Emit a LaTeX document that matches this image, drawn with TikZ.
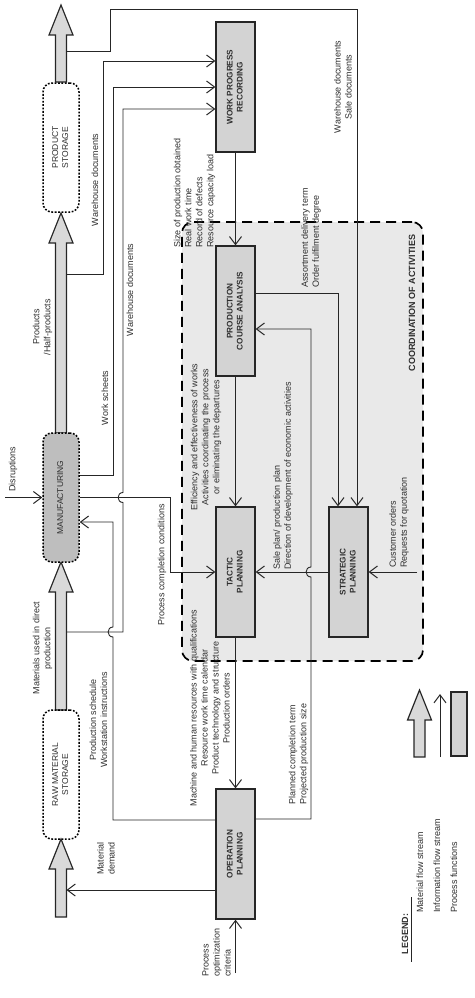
\documentclass[tikz,border=0pt]{standalone}
\usepackage{fontspec}
\setmainfont{Liberation Sans}
\usepackage{graphicx}
\usetikzlibrary{arrows.meta}
\definecolor{ink}{HTML}{262626}
\definecolor{txt}{HTML}{2E2E2E}
\definecolor{boxfill}{HTML}{D3D3D3}
\definecolor{mffill}{HTML}{BEBEBE}
\definecolor{coordfill}{HTML}{E9E9E9}
\definecolor{fatfill}{HTML}{D9D9D9}
\tikzset{
  proc/.style={draw=ink, line width=1.3pt, fill=boxfill, minimum width=39pt, minimum height=130pt, inner sep=0pt, font=\fontsize{8.2}{10}\selectfont\bfseries, text=txt},
  store/.style={draw=black, line width=1.5pt, dash pattern=on 1.8pt off 1.6pt, rounded corners=9pt, minimum width=36pt, minimum height=129pt, inner sep=0pt, font=\fontsize{8.5}{10}\selectfont, text=txt},
  coordbox/.style={draw=black, fill=coordfill, line width=1.7pt, dash pattern=on 10pt off 6pt, rounded corners=11pt, minimum width=241pt, minimum height=439pt, inner sep=0pt},
  info/.style={draw=ink, line width=0.9pt},
  infoa/.style={info, -{Straight Barb[length=8pt,width=12pt,line width=1pt]}},
  lbl/.style={rotate=90, font=\fontsize{9}{11}\selectfont, text=txt, inner sep=0pt},
  fat/.style={draw=ink, line width=1.2pt, fill=fatfill, line join=miter},
}
\newcommand{\rtxt}[1]{\rotatebox{90}{\begin{tabular}{@{}c@{}}#1\end{tabular}}}
\newcommand{\fatarr}[4]{%
  \path[fat] (#1-5.5,#4) -- (#1-5.5,#3) -- (#1-12,#3) -- (#1,#2) -- (#1+12,#3) -- (#1+5.5,#3) -- (#1+5.5,#4) -- cycle;}
\begin{document}
\begin{tikzpicture}[x=1pt,y=-1pt]
\useasboundingbox (0,0) rectangle (474,998);
% coordination area
\node[coordbox] (coord) at (302.5,441.5) {};
\node[lbl, font=\fontsize{9}{11}\selectfont\bfseries] (coordl) at (412,303) {COORDINATION OF ACTIVITIES};

% material flow
\fatarr{61}{5}{35}{82}
\fatarr{61}{213}{243}{433}
\fatarr{61}{562}{592}{710}
\fatarr{61}{839}{869}{917}
\node[store] (ps) at (61,147.5) {\rtxt{PRODUCT\\STORAGE}};
\node[store, fill=mffill] (mf) at (61,497.5) {\rtxt{MANUFACTURING}};
\node[store] (rm) at (61,774.5) {\rtxt{RAW MATERIAL\\STORAGE}};

% process functions
\node[proc] (wpr) at (235.5,87) {\rtxt{WORK PROGRESS\\RECORDING}};
\node[proc] (pca) at (235.5,311) {\rtxt{PRODUCTION\\COURSE ANALYSIS}};
\node[proc] (tp) at (235.5,572) {\rtxt{TACTIC\\PLANNING}};
\node[proc] (sp) at (348.5,572) {\rtxt{STRATEGIC\\PLANNING}};
\node[proc] (op) at (235.5,854) {\rtxt{OPERATION\\PLANNING}};

% free ends
\coordinate (ps1) at (66.5,51);
\coordinate (ms1) at (66.5,274);
\coordinate (rs1) at (66.5,632);
\coordinate (rs2) at (66.5,890);
\coordinate (dis) at (5,497.5);
\coordinate (crit) at (235.5,973);
\coordinate (cust) at (417,572);

% information flows
\draw[infoa] (ps1) -| (110,9) -| ([xshift=8.5pt]sp.north);
\draw[infoa] (ms1) -| (103,61) -- ([yshift=26pt]wpr.west);
\draw[infoa] ([yshift=22.5pt]mf.east) -| (113,87) -- (wpr.west);
\draw[infoa] (rs1) -- (123,632) -- (123,502.5) .. controls (116.5,502.5) and (116.5,492.5) .. (123,492.5) |- ([yshift=-22pt]wpr.west);
\draw[infoa] (mf.east) -| (170,572) -- (tp.west);
\draw[infoa] ([yshift=34pt]op.west) -| (113,637) .. controls (106.5,637) and (106.5,627) .. (113,627) |- ([yshift=-24.5pt]mf.east);
\draw[infoa] ([yshift=-36pt]op.west) -- (rs2);
\draw[infoa] (dis) -- (mf.west);
\draw[infoa] (wpr.south) -- (pca.north);
\draw[infoa] (pca.south) -- (tp.north);
\draw[infoa] (tp.south) -- (op.north);
\draw[infoa] (crit) -- (op.south);
\draw[infoa] ([yshift=18pt]pca.east) -| ([xshift=-10.5pt]sp.north);
\draw[infoa] ([yshift=35pt]op.east) -| (311,577) .. controls (304.5,577) and (304.5,567) .. (311,567) |- ([yshift=-18pt]pca.east);
\draw[infoa] (sp.west) -- (tp.east);
\draw[infoa] (cust) -- (sp.east);

% labels
\node[lbl] (l1) at (95,180) {Warehouse documents};
\node[lbl, align=center] (l2) at (42.5,327) {Products\\/Half-products};
\node[lbl] (l3) at (105,398) {Work scheets};
\node[lbl] (l4) at (130,290) {Warehouse documents};
\node[lbl] (l5) at (13,469) {Disruptions};
\node[lbl, align=center] (l6) at (42.5,648) {Materials used in direct\\production};
\node[lbl, align=center] (l7) at (98.5,720) {Production schedule\\Workstation instructions};
\node[lbl] (l8) at (162,565) {Process completion conditions};
\node[lbl, align=left, anchor=west] (l9) at (194.5,248) {Size of production obtained\\Real work time\\Record of defects\\Resource capacity load};
\node[lbl, align=center] (l10) at (206,437) {Efficiency and effectiveness of works\\Activities coordinating the process\\or eliminating the departures};
\node[lbl, align=center] (l11) at (210,708) {Machine and human resources with qualifications\\Resource work time calendar\\Product technology and structure\\Production orders};
\node[lbl, align=left, anchor=west] (l12) at (311,288) {Assortment delivery term\\Order fulfilment degree};
\node[lbl, align=left, anchor=west] (l13) at (283,570) {Sale plan/ production plan\\Direction of development of economic activities};
\node[lbl, align=left, anchor=west] (l14) at (399,568) {Customer orders\\Requests for quotation};
\node[lbl, align=left, anchor=west] (l15) at (298.5,805) {Planned completion term\\Projected production size};
\node[lbl, align=center] (l16) at (343,87) {Warehouse documents\\Sale documents};
\node[lbl, align=left, anchor=west] (l17) at (216.5,977) {Process\\optimization\\criteria};
\node[lbl, align=left, anchor=west] (l18) at (106,875) {Material\\demand};

% legend
\node[lbl, font=\fontsize{9}{11}\selectfont\bfseries] (lg) at (405,934) {LEGEND:};
\coordinate (ul1) at (411,897);
\coordinate (ul2) at (411,962);
\draw[ink, line width=0.8pt] (ul1) -- (ul2);
\fatarr{419.5}{690}{720}{757}
\coordinate (la1) at (440,757);
\coordinate (la2) at (440,694);
\draw[infoa] (la1) -- (la2);
\node[draw=ink, line width=1.2pt, fill=boxfill, minimum width=16pt, minimum height=64pt, inner sep=0pt] (lgbox) at (459,724) {};
\node[lbl, anchor=west] (lg1) at (420,913) {Material flow stream};
\node[lbl, anchor=west] (lg2) at (437,913) {Information flow stream};
\node[lbl, anchor=west] (lg3) at (454,913) {Process functions};
\end{tikzpicture}
\end{document}
